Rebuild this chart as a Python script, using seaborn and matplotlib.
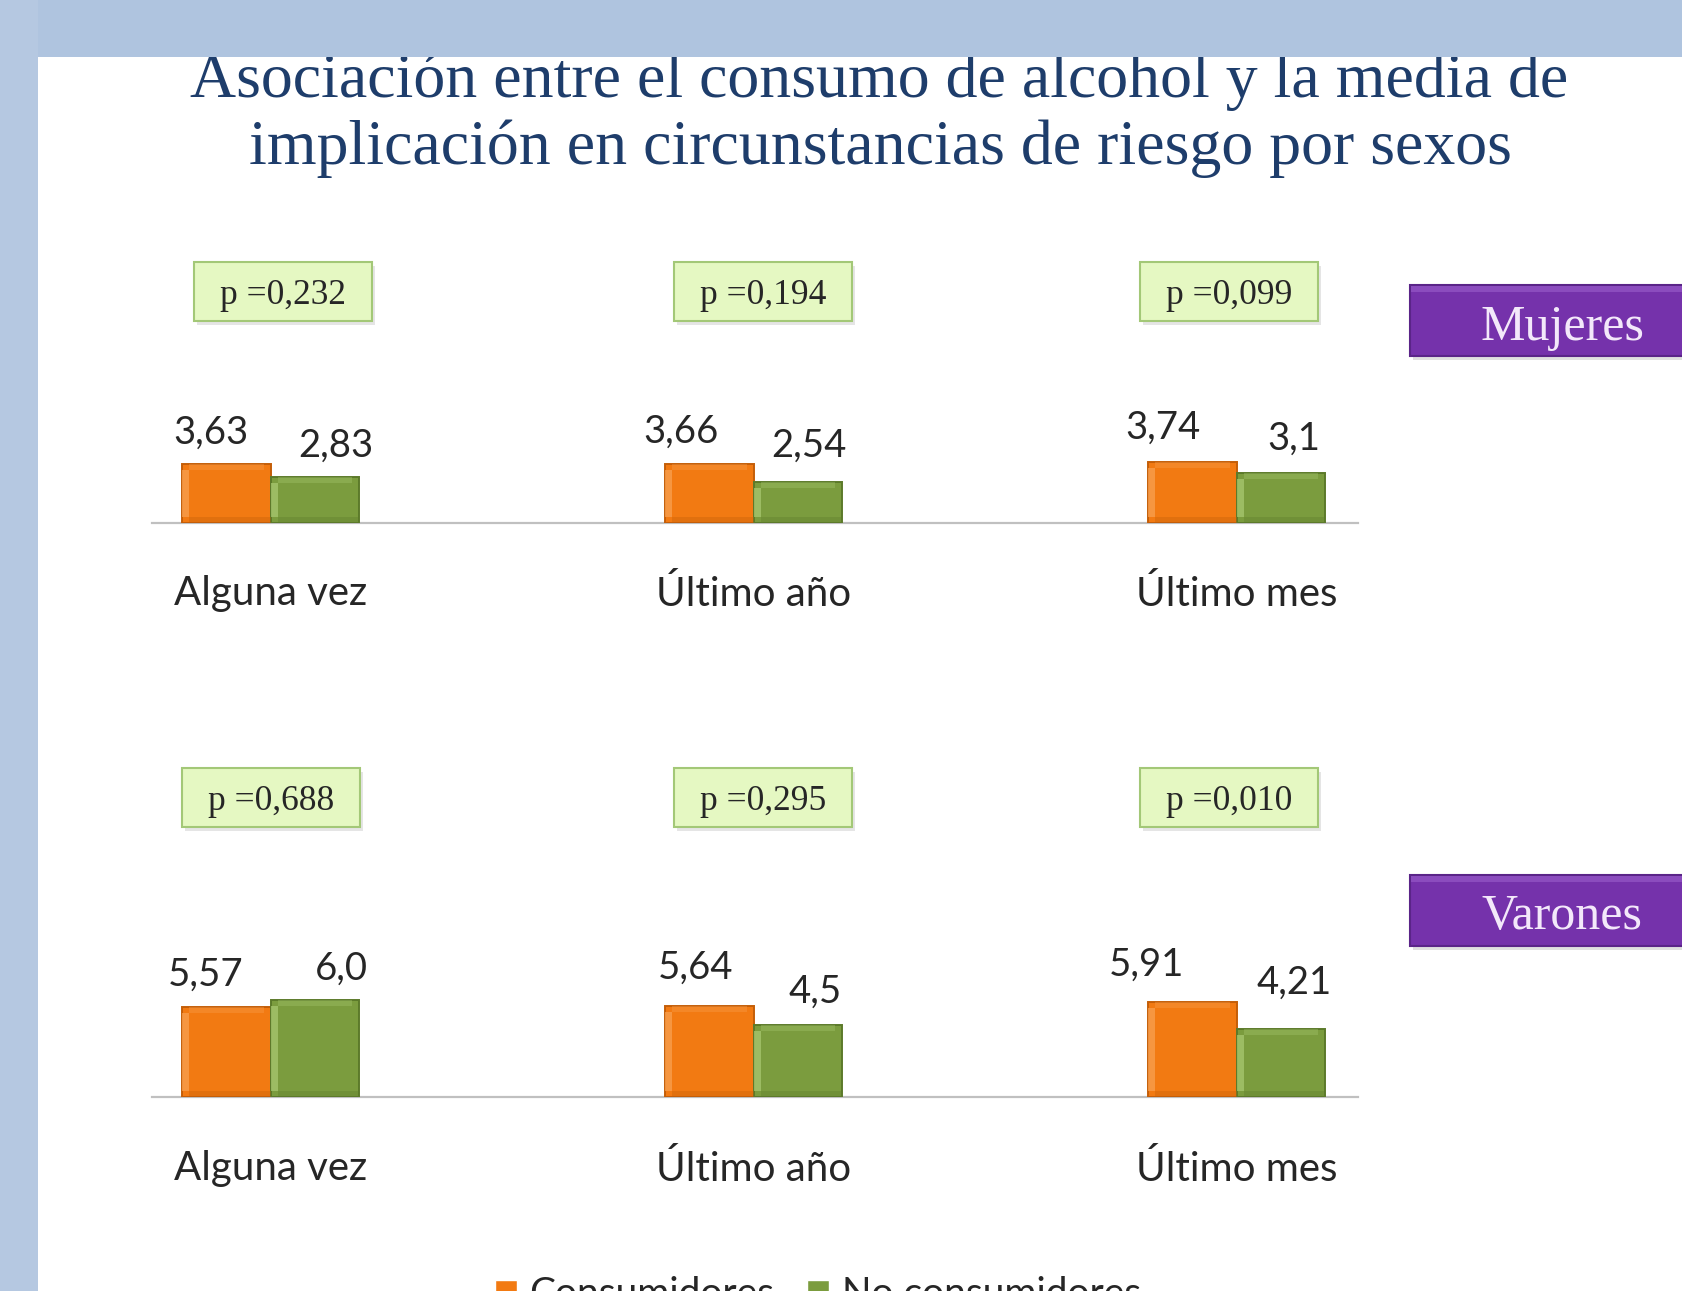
import numpy as np
import pandas as pd
import matplotlib
matplotlib.use("Agg")
import matplotlib.pyplot as plt
import seaborn as sns
from matplotlib.patches import Rectangle

# ---------------- data ----------------
periodos = ["Alguna vez", "Último año", "Último mes"]
grupos = ["Consumidores", "No consumidores"]
mujeres_consumidores = [3.63, 3.66, 3.74]
mujeres_no_consumidores = [2.83, 2.54, 3.1]
varones_consumidores = [5.57, 5.64, 5.91]
varones_no_consumidores = [6.0, 4.5, 4.21]
p_mujeres = ["p =0,232", "p =0,194", "p =0,099"]
p_varones = ["p =0,688", "p =0,295", "p =0,010"]
titulo = ["Asociación entre el consumo de alcohol y la media de",
          "implicación en circunstancias de riesgo por sexos"]
sexos = ["Mujeres", "Varones"]

# ---------------- style ----------------
W, H = 1683, 1291
ORANGE = "#F27A12"
GREEN = "#7B9C3E"
ORANGE_EDGE = "#C45E08"
GREEN_EDGE = "#5C7A2A"
ORANGE_HI = "#F8A050"
GREEN_HI = "#A8C870"
TEXT = "#262626"
SANS = ["Lato", "DejaVu Sans"]
SERIF = ["Liberation Serif", "DejaVu Serif"]

sns.set_theme(style="white")
plt.rcParams["font.family"] = SANS

fig = plt.figure(figsize=(W / 100, H / 100), dpi=100)
fig.patch.set_facecolor("white")

# background bands
fig.add_artist(Rectangle((0, 1 - 57 / H), 1, 57 / H, transform=fig.transFigure,
                         facecolor="#AFC4DF", edgecolor="none", zorder=5))
fig.add_artist(Rectangle((0, 0), 38 / W, 1, transform=fig.transFigure,
                         facecolor="#B5C8E1", edgecolor="none", zorder=5))

# title
fig.text(879 / W, 1 - 97 / H, titulo[0], ha="center", va="baseline",
         family=SERIF, fontsize=46, color="#1E3D6B", zorder=1)
fig.text(880 / W, 1 - 164.5 / H, titulo[1], ha="center", va="baseline",
         family=SERIF, fontsize=46, color="#1E3D6B", zorder=1)

PXU = 16.1          # pixels per unit
YMAX = 8
AX_LEFT, AX_W = 152, 1206
XLIM = (-0.2458, 2.251)
GROUP_PX = AX_W / (XLIM[1] - XLIM[0])   # pixels per category unit

# label offsets (px): per panel, per group (orange, green)
label_dx = [[(-16, 21), (-29, 11), (-30, 13)],
            [(-21, 26), (-14, 17), (-46, 13)]]
label_dy = [[(35, 35), (35, 39), (38, 37)],
            [(36, 35), (42, 36), (41, 50)]]

panels = [
    dict(cons=mujeres_consumidores, nocons=mujeres_no_consumidores, p=p_mujeres,
         base=522.5, pbox_y=291, pbox_dx=(12, 9, -8), side_y=(285, 356), side_ty=322),
    dict(cons=varones_consumidores, nocons=varones_no_consumidores, p=p_varones,
         base=1097, pbox_y=797, pbox_dx=(0, 9, -8), side_y=(875, 946), side_ty=911),
]

handles = labels = None
for k, pan in enumerate(panels):
    h = YMAX * PXU
    ax = fig.add_axes([AX_LEFT / W, 1 - pan["base"] / H, AX_W / W, h / H])
    df = pd.DataFrame({
        "periodo": periodos * 2,
        "grupo": [grupos[0]] * 3 + [grupos[1]] * 3,
        "valor": list(pan["cons"]) + list(pan["nocons"]),
    })
    sns.barplot(data=df, x="periodo", y="valor", hue="grupo", order=periodos,
                hue_order=grupos, palette=[ORANGE, GREEN], saturation=1,
                width=0.3665, ax=ax, errorbar=None)
    if ax.get_legend() is not None:
        handles, labels = ax.get_legend_handles_labels()
        ax.get_legend().remove()
    ax.set_xlim(*XLIM)
    ax.set_ylim(0, YMAX)
    ax.set_xlabel("")
    ax.set_ylabel("")
    ax.set_yticks([])
    ax.patch.set_alpha(0)
    for s in ["left", "top", "right"]:
        ax.spines[s].set_visible(False)
    ax.spines["bottom"].set_color("#C0C0C0")
    ax.spines["bottom"].set_linewidth(1.6)
    ax.spines["bottom"].set_zorder(0.5)
    ax.tick_params(axis="x", length=0, pad=38, labelsize=29, labelcolor=TEXT)

    for gi, (cont, ec, hi) in enumerate(zip(ax.containers, [ORANGE_EDGE, GREEN_EDGE],
                                            [ORANGE_HI, GREEN_HI])):
        for ci, bar in enumerate(cont):
            bar.set_edgecolor(ec)
            bar.set_linewidth(1.4)
            v = bar.get_height()
            x0, bwid = bar.get_x(), bar.get_width()
            # bevel: light strip left/top, darker strip bottom
            sx = 7 / GROUP_PX
            sy = 6 / PXU
            ax.add_patch(Rectangle((x0, sy), sx, v - 2 * sy, facecolor=hi,
                                   edgecolor="none", alpha=0.75, zorder=3))
            ax.add_patch(Rectangle((x0 + sx, v - sy), bwid - 2 * sx, sy, facecolor=hi,
                                   edgecolor="none", alpha=0.35, zorder=3))
            ax.add_patch(Rectangle((x0 + sx, 0), bwid - sx, sy, facecolor=ec,
                                   edgecolor="none", alpha=0.35, zorder=3))
            xc = x0 + bwid / 2
            ax.annotate(str(v).replace(".", ","), xy=(xc, v),
                        xytext=(label_dx[k][ci][gi] * 0.72, label_dy[k][ci][gi] * 0.72),
                        textcoords="offset points", ha="center", va="center_baseline",
                        fontsize=27.5, color=TEXT, annotation_clip=False)

    # p-value boxes
    bw, bh = 178, 59
    for ci, ptxt in enumerate(pan["p"]):
        xc_px = ax.transData.transform((ci, 0))[0] + pan["pbox_dx"][ci]
        yc_px = H - pan["pbox_y"]
        fig.add_artist(Rectangle((xc_px - bw / 2 + 3, yc_px - bh / 2 - 4), bw, bh,
                                 transform=None, facecolor="#000000", alpha=0.10,
                                 edgecolor="none", zorder=2))
        fig.add_artist(Rectangle((xc_px - bw / 2, yc_px - bh / 2), bw, bh,
                                 transform=None, facecolor="#E5F8C2",
                                 edgecolor="#A3C877", linewidth=1.5, zorder=3))
        fig.text(xc_px / W, yc_px / H, ptxt, ha="center", va="center_baseline",
                 family=SERIF, fontsize=25.5, color=TEXT, zorder=4)

    # side label (Mujeres / Varones)
    y0, y1 = pan["side_y"]
    fig.add_artist(Rectangle((1413 / W, 1 - (y1 + 4) / H), 1, (y1 - y0) / H,
                             transform=fig.transFigure, facecolor="#000000",
                             alpha=0.12, edgecolor="none", zorder=2))
    fig.add_artist(Rectangle((1410 / W, 1 - y1 / H), 1, (y1 - y0) / H,
                             transform=fig.transFigure, facecolor="#7532AB",
                             edgecolor="#5A2488", linewidth=1.5, zorder=3))
    fig.add_artist(Rectangle((1411 / W, 1 - (y0 + 7) / H), 1, 6 / H,
                             transform=fig.transFigure, facecolor="#9A5FCC",
                             alpha=0.6, edgecolor="none", zorder=3.5))
    fig.text(1562 / W, 1 - pan["side_ty"] / H, sexos[k], ha="center",
             va="center_baseline", family=SERIF, fontsize=36, color="#F3E8FA", zorder=4)

# legend (bottom, partly cut)
leg = fig.legend(handles, labels, loc="center", bbox_to_anchor=(818 / W, 1 - 1294 / H),
                 ncol=2, frameon=False, fontsize=28, handlelength=0.55,
                 handleheight=0.55, handletextpad=0.33, columnspacing=0.85,
                 labelcolor=TEXT)

fig.savefig("out.png", dpi=100, facecolor="white")
